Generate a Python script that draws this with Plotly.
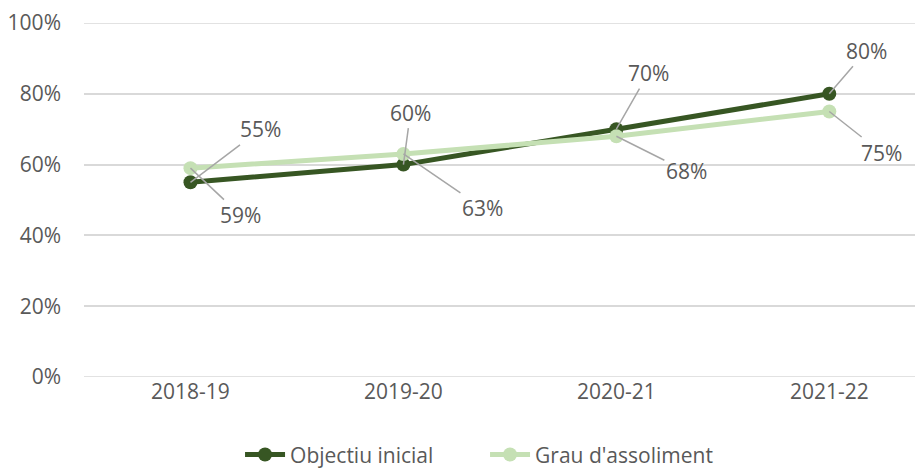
import plotly.graph_objects as go

categories = ["2018-19", "2019-20", "2020-21", "2021-22"]
objectiu = [0.55, 0.60, 0.70, 0.80]
grau = [0.59, 0.63, 0.68, 0.75]
y_ticks = [0, 0.2, 0.4, 0.6, 0.8, 1.0]
y_tick_labels = ["0%", "20%", "40%", "60%", "80%", "100%"]

dark = "#375623"
light = "#C5E0B4"
txt = "#595959"
FONT = "Open Sans"
FS = 21

# label offsets (pixels) for callouts
off_obj = [(70, -53), (7, -52), (32, -56), (37, -43)]
off_grau = [(50, 47), (79, 54), (70, 35), (52, 41)]

fig = go.Figure()
fig.add_trace(go.Scatter(x=categories, y=objectiu, name="Objectiu inicial",
                         mode="lines+markers",
                         line=dict(color=dark, width=5),
                         marker=dict(color=dark, size=14)))
fig.add_trace(go.Scatter(x=categories, y=grau, name="Grau d'assoliment",
                         mode="lines+markers",
                         line=dict(color=light, width=5),
                         marker=dict(color=light, size=14)))

annotations = []
for series, offs in ((objectiu, off_obj), (grau, off_grau)):
    for c, v, (ax, ay) in zip(categories, series, offs):
        annotations.append(dict(
            x=c, y=v, xref="x", yref="y",
            text=f"{round(v*100)}%", showarrow=True,
            ax=ax, ay=ay, arrowhead=0, arrowwidth=1.5, arrowcolor="#A6A6A6",
            standoff=0, startstandoff=0,
            font=dict(family=FONT, size=FS, color=txt)))

fig.update_layout(
    width=915, height=460,
    margin=dict(l=76, r=0, t=15, b=91, autoexpand=False),
    paper_bgcolor="white", plot_bgcolor="white",
    font=dict(family=FONT, size=FS, color=txt),
    annotations=annotations,
    showlegend=True,
    legend=dict(orientation="h", x=0.478, xanchor="center", y=-0.278, yanchor="bottom",
                font=dict(family=FONT, size=FS, color=txt),
                itemwidth=40, tracegroupgap=0, entrywidth=190),
    xaxis=dict(range=[-0.5, 3.44], showgrid=False, zeroline=False, showline=False,
               ticks="", tickfont=dict(family=FONT, size=FS, color=txt)),
    yaxis=dict(range=[0, 1.0], tickvals=y_ticks, ticktext=y_tick_labels,
               showgrid=True, gridcolor="#D9D9D9", gridwidth=1.5,
               zeroline=False, showline=False, ticks="", ticklabelstandoff=22,
               tickfont=dict(family=FONT, size=FS, color=txt)),
)
fig.add_hline(y=0, line=dict(color="#D9D9D9", width=1.5), layer="below")
fig.add_hline(y=1, line=dict(color="#D9D9D9", width=1.5), layer="below")

fig.write_html("out.html")
